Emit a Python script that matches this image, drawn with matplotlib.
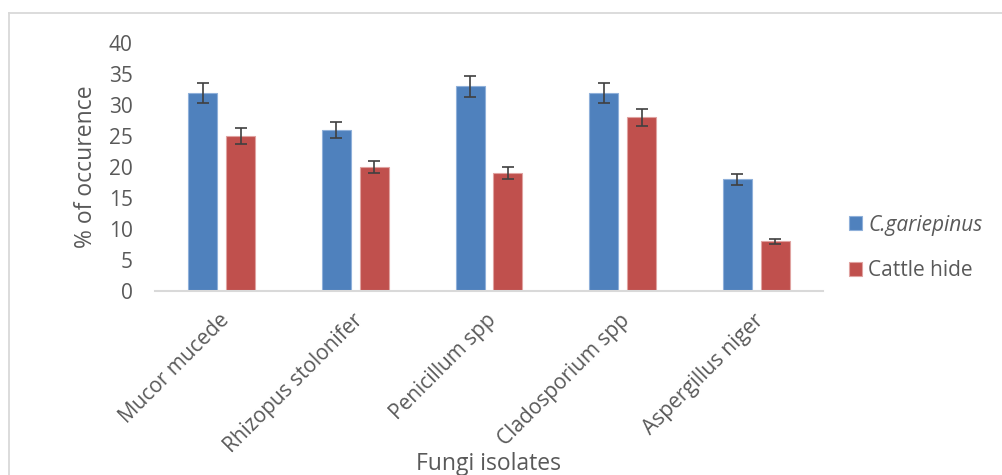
import matplotlib
matplotlib.use("Agg")
import matplotlib.pyplot as plt
import matplotlib.transforms as mtransforms
from matplotlib.lines import Line2D
import numpy as np

categories = ["Mucor mucede", "Rhizopus stolonifer", "Penicillum spp", "Cladosporium spp", "Aspergillus niger"]
series_names = ["C.gariepinus", "Cattle hide"]
cg_values = [32, 26, 33, 32, 18]
ch_values = [25, 20, 19, 28, 8]
cg_errors = [1.6, 1.3, 1.65, 1.6, 0.9]
ch_errors = [1.25, 1.0, 0.95, 1.4, 0.4]
y_ticks = [0, 5, 10, 15, 20, 25, 30, 35, 40]

BLUE = "#4F81BD"
RED = "#C0504D"
TXT = "#595959"
GRID = "#D9D9D9"

plt.rcParams['font.family'] = ['Open Sans', 'DejaVu Sans']
FS = 15
FS_T = 16.5

W, H = 1003, 475
fig = plt.figure(figsize=(W / 100, H / 100), dpi=100)
fig.patch.set_facecolor("white")

# outer chart border (top and left visible)
fig.add_artist(Line2D([9 / W, 1.0], [1 - 13 / H, 1 - 13 / H], transform=fig.transFigure, color=GRID, lw=1.3))
fig.add_artist(Line2D([9 / W, 9 / W], [0, 1 - 13 / H], transform=fig.transFigure, color=GRID, lw=1.3))

ax = fig.add_axes([155 / W, 1 - 291 / H, (823 - 155) / W, (291 - 43) / H])
x = np.arange(len(categories))
bw = 0.217
off = 0.142
err_kw = dict(ecolor="#404040", elinewidth=1.2, capsize=4.3, capthick=1.2)
b1 = ax.bar(x - off, cg_values, bw, color=BLUE, edgecolor="#8FB0DA", linewidth=0.8,
            yerr=cg_errors, error_kw=err_kw, label=series_names[0], zorder=2)
b2 = ax.bar(x + off, ch_values, bw, color=RED, edgecolor="#E0A3A1", linewidth=0.8,
            yerr=ch_errors, error_kw=err_kw, label=series_names[1], zorder=2)

ax.set_xlim(-0.5, len(categories) - 0.5)
ax.set_ylim(0, 40)
ax.set_yticks(y_ticks)
ax.set_yticklabels([str(t) for t in y_ticks], fontsize=FS, color=TXT)
ax.tick_params(axis='y', length=0, pad=16)
ax.set_xticks(x)
ax.set_xticklabels(categories, fontsize=FS, color=TXT, rotation=45, ha='right', va='center',
                   rotation_mode='anchor')
ax.tick_params(axis='x', length=0, pad=19)
offset = mtransforms.ScaledTranslation(4 / 100, 0, fig.dpi_scale_trans)
for lab in ax.get_xticklabels():
    lab.set_transform(lab.get_transform() + offset)

for s in ["top", "right", "left"]:
    ax.spines[s].set_visible(False)
ax.spines["bottom"].set_color(GRID)
ax.spines["bottom"].set_linewidth(1.5)
ax.set_facecolor("none")

fig.text(86 / W, 1 - 167 / H, "% of occurence", rotation=90, ha='center', va='center', fontsize=FS_T, color=TXT)
fig.text(489 / W, 1 - 464 / H, "Fungi isolates", ha='center', va='center', fontsize=FS_T, color=TXT)

leg = ax.legend(handles=[b1, b2], labels=series_names, loc='center left',
                bbox_to_anchor=(849 / W, 1 - 248 / H), bbox_transform=fig.transFigure,
                frameon=False, fontsize=FS, handlelength=0.62, handleheight=0.62,
                handletextpad=0.3, labelspacing=1.2, borderaxespad=0, borderpad=0)
for t in leg.get_texts():
    t.set_color(TXT)
leg.get_texts()[0].set_style('italic')

fig.savefig("out.png", dpi=100, facecolor="white")
